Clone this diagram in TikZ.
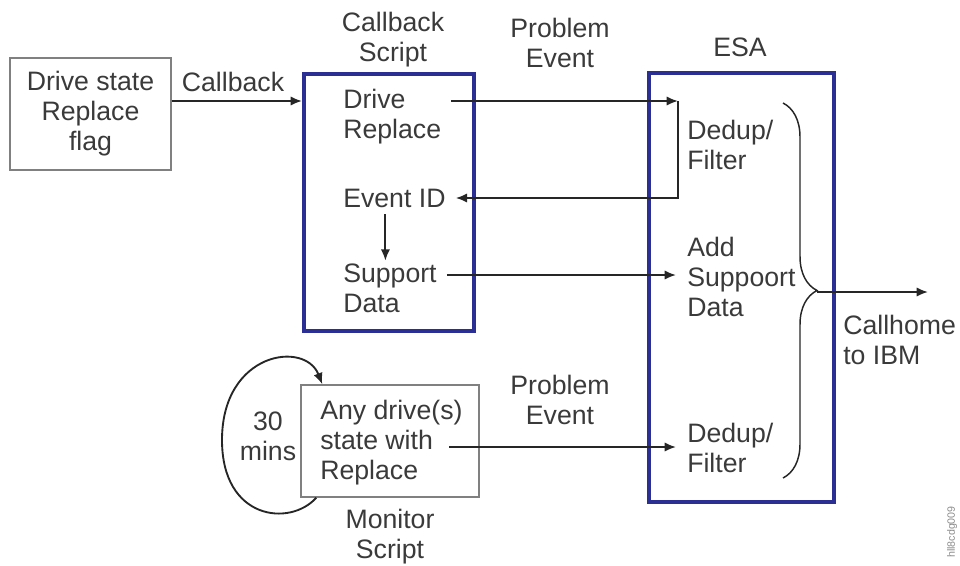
\documentclass[tikz,border=0pt]{standalone}
\usepackage{fontspec}
\setmainfont{Liberation Sans}
\usepackage{xcolor}
\usepackage{tikz}
\usetikzlibrary{arrows.meta,decorations.pathreplacing}
\definecolor{esablue}{RGB}{43,46,146}
\definecolor{txtgray}{RGB}{58,58,58}
\definecolor{lngray}{RGB}{38,38,38}

\begin{document}
\begin{tikzpicture}[x=0.75pt,y=-0.75pt,
	font=\fontsize{20}{22.5}\selectfont,text=txtgray,
	arr/.style={-{Latex[length=8.5pt,width=7pt]},line width=1.4pt,draw=lngray},
	graybox/.style={draw=black!50,line width=1.1pt},
	bluebox/.style={draw=esablue,line width=3pt},
	lbl/.style={align=center,inner sep=0pt},
	txt/.style={anchor=west,align=left,inner xsep=7.5pt,inner ysep=2pt}]
	\useasboundingbox (0,0) rectangle (960,565);

	% boxes
	\node[graybox,align=center,minimum width=120.75pt,minimum height=84pt] (flag) at (90.5,114) {Drive state\\Replace\\flag};
	\node[bluebox,minimum width=127.5pt,minimum height=192.75pt] (cbbox) at (389,202.5) {};
	\node[bluebox,minimum width=138.75pt,minimum height=321.75pt] (esabox) at (741.5,287.5) {};
	\node[graybox,minimum width=133.5pt,minimum height=84pt] (monbox) at (390,441) {};

	% texts in the boxes
	\node[txt] (drvrep) at (333,117) {Drive\\Replace};
	\node[txt] (evid) at (333,198) {Event ID};
	\node[txt] (supp) at (333,288) {Support\\Data};
	\node[txt] (dedupa) at (677,145) {Dedup/\\Filter};
	\node[txt] (addsup) at (677,277) {Add\\Suppoort\\Data};
	\node[txt] (dedupb) at (677,448) {Dedup/\\Filter};
	\node[txt] (anydrv) at (310,443) {Any drive(s)\\state with\\Replace};
	\node[txt] (callhome) at (833,340) {Callhome\\to IBM};

	% labels
	\node[lbl] (cbtitle) at (393,40) {Callback\\Script};
	\node[lbl] (esatitle) at (740,47) {ESA};
	\node[lbl] (probA) at (560,43) {Problem\\Event};
	\node[lbl] (probB) at (560,400) {Problem\\Event};
	\node[lbl] (cblbl) at (233,82) {Callback};
	\node[lbl] (mins) at (268,436) {30\\mins};
	\node[lbl] (montitle) at (390,537) {Monitor\\Script};
	\node[rotate=90,font=\fontsize{8}{9}\selectfont,text=black!45] (imgid) at (952,532) {hll8cdg009};

	\coordinate (pa) at (678,101);
	\coordinate (pb) at (676,275);
	\coordinate (monout) at (449,447);
	\coordinate (pc) at (676,447);
	\coordinate (tip) at (817,292);
	\coordinate (ibm) at (928,292);

	% connectors
	\draw[arr] (flag.east |- pa) -- (cbbox.west |- pa);
	\draw[arr] (drvrep.east |- pa) -- (pa);
	\draw[arr] (pa) -- (pa |- evid) -- (evid.east);
	\draw[arr,transform canvas={xshift=-6.75pt},shorten <=3pt] (evid.south) -- (evid.south |- supp.north);
	\draw[arr] (supp.east |- pb) -- (pb);
	\draw[arr] (monout) -- (pc);
	\draw[line width=1.1pt,draw=lngray,decorate,decoration={brace,amplitude=25.5pt}] (783,103) -- (783,478);
	\draw[arr] (tip) -- (ibm);
	\draw[arr] ([xshift=12pt]monbox.south west) .. controls (290,527) and (222,520) .. (222,440) .. controls (222,352) and (305,340) .. ([xshift=16.5pt]monbox.north west);
\end{tikzpicture}
\end{document}
